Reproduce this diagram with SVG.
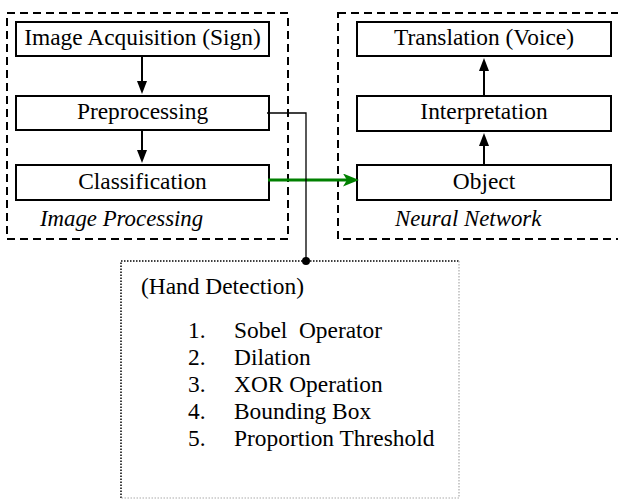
<svg xmlns="http://www.w3.org/2000/svg" width="618" height="502" viewBox="0 0 618 502">
<style>
.grp{fill:none;stroke:#000;stroke-width:2;stroke-dasharray:8 5}
.box{fill:#fff;stroke:#000;stroke-width:2}
text{font-family:'Liberation Serif','Times New Roman',Tinos,Times,'DejaVu Serif',serif;font-size:23.4px;fill:#000}
.c{text-anchor:middle}
.it{font-style:italic;font-size:22.8px}
.arr{fill:none;stroke:#000;stroke-width:2}
.dot{fill:none;stroke:#000;stroke-width:1.5;stroke-dasharray:1.5 1.5}
.dotg{fill:none;stroke:#aaa;stroke-width:1.2;stroke-dasharray:1.5 1.5}
</style>
<defs>
<marker id="ah" markerUnits="userSpaceOnUse" markerWidth="13" markerHeight="10" refX="1" refY="5" orient="auto">
<path d="M0,0 L13,5 L0,10 Z" fill="#000"/>
</marker>
<marker id="gh" markerUnits="userSpaceOnUse" markerWidth="16" markerHeight="13" refX="4" refY="6.5" orient="auto">
<path d="M0,0 L16,6.5 L0,13 L4,6.5 Z" fill="#008000"/>
</marker>
</defs>
<rect width="618" height="502" fill="#fff"/>
<g id="image-processing">
<rect class="grp" x="7" y="13" width="281" height="226"/>
<text class="it" x="40" y="226">Image Processing</text>
</g>
<g id="neural-network">
<rect class="grp" x="338" y="13" width="290" height="226"/>
<text class="it" x="395" y="226">Neural Network</text>
</g>
<g id="acquisition">
<rect class="box" x="16" y="22" width="253" height="34"/>
<text class="c" x="142.5" y="45">Image Acquisition (Sign)</text>
</g>
<g id="preprocessing">
<rect class="box" x="16" y="96" width="253" height="34"/>
<text class="c" x="142.5" y="119">Preprocessing</text>
</g>
<g id="classification">
<rect class="box" x="16" y="165" width="253" height="35"/>
<text class="c" x="142.5" y="189">Classification</text>
</g>
<g id="translation">
<rect class="box" x="357" y="22" width="254" height="34"/>
<text class="c" x="484" y="45">Translation (Voice)</text>
</g>
<g id="interpretation">
<rect class="box" x="357" y="96" width="254" height="35"/>
<text class="c" x="484" y="119">Interpretation</text>
</g>
<g id="object">
<rect class="box" x="357" y="165" width="254" height="35"/>
<text class="c" x="484" y="189">Object</text>
</g>
<g id="hand-detection">
<path class="dot" d="M121,498 V261 H459"/>
<path class="dotg" d="M459,261 V498 H121"/>
<text x="141" y="294">(Hand Detection)</text>
<text x="188" y="338">1.</text><text x="234" y="338" xml:space="preserve">Sobel  Operator</text>
<text x="188" y="365">2.</text><text x="234" y="365">Dilation</text>
<text x="188" y="392">3.</text><text x="234" y="392">XOR Operation</text>
<text x="188" y="419">4.</text><text x="234" y="419">Bounding Box</text>
<text x="188" y="446">5.</text><text x="234" y="446">Proportion Threshold</text>
</g>
<g id="connectors">
<line class="arr" x1="142" y1="57" x2="142" y2="82" marker-end="url(#ah)"/>
<line class="arr" x1="142" y1="131" x2="142" y2="151" marker-end="url(#ah)"/>
<line class="arr" x1="484" y1="164" x2="484" y2="145" marker-end="url(#ah)"/>
<line class="arr" x1="484" y1="95" x2="484" y2="70" marker-end="url(#ah)"/>
<line x1="268" y1="180" x2="347" y2="180" stroke="#008000" stroke-width="3" marker-end="url(#gh)"/>
<path d="M267,113 H306 V261" fill="none" stroke="#000" stroke-width="1.3"/>
<circle cx="306" cy="261" r="4" fill="#000"/>
</g>
</svg>
